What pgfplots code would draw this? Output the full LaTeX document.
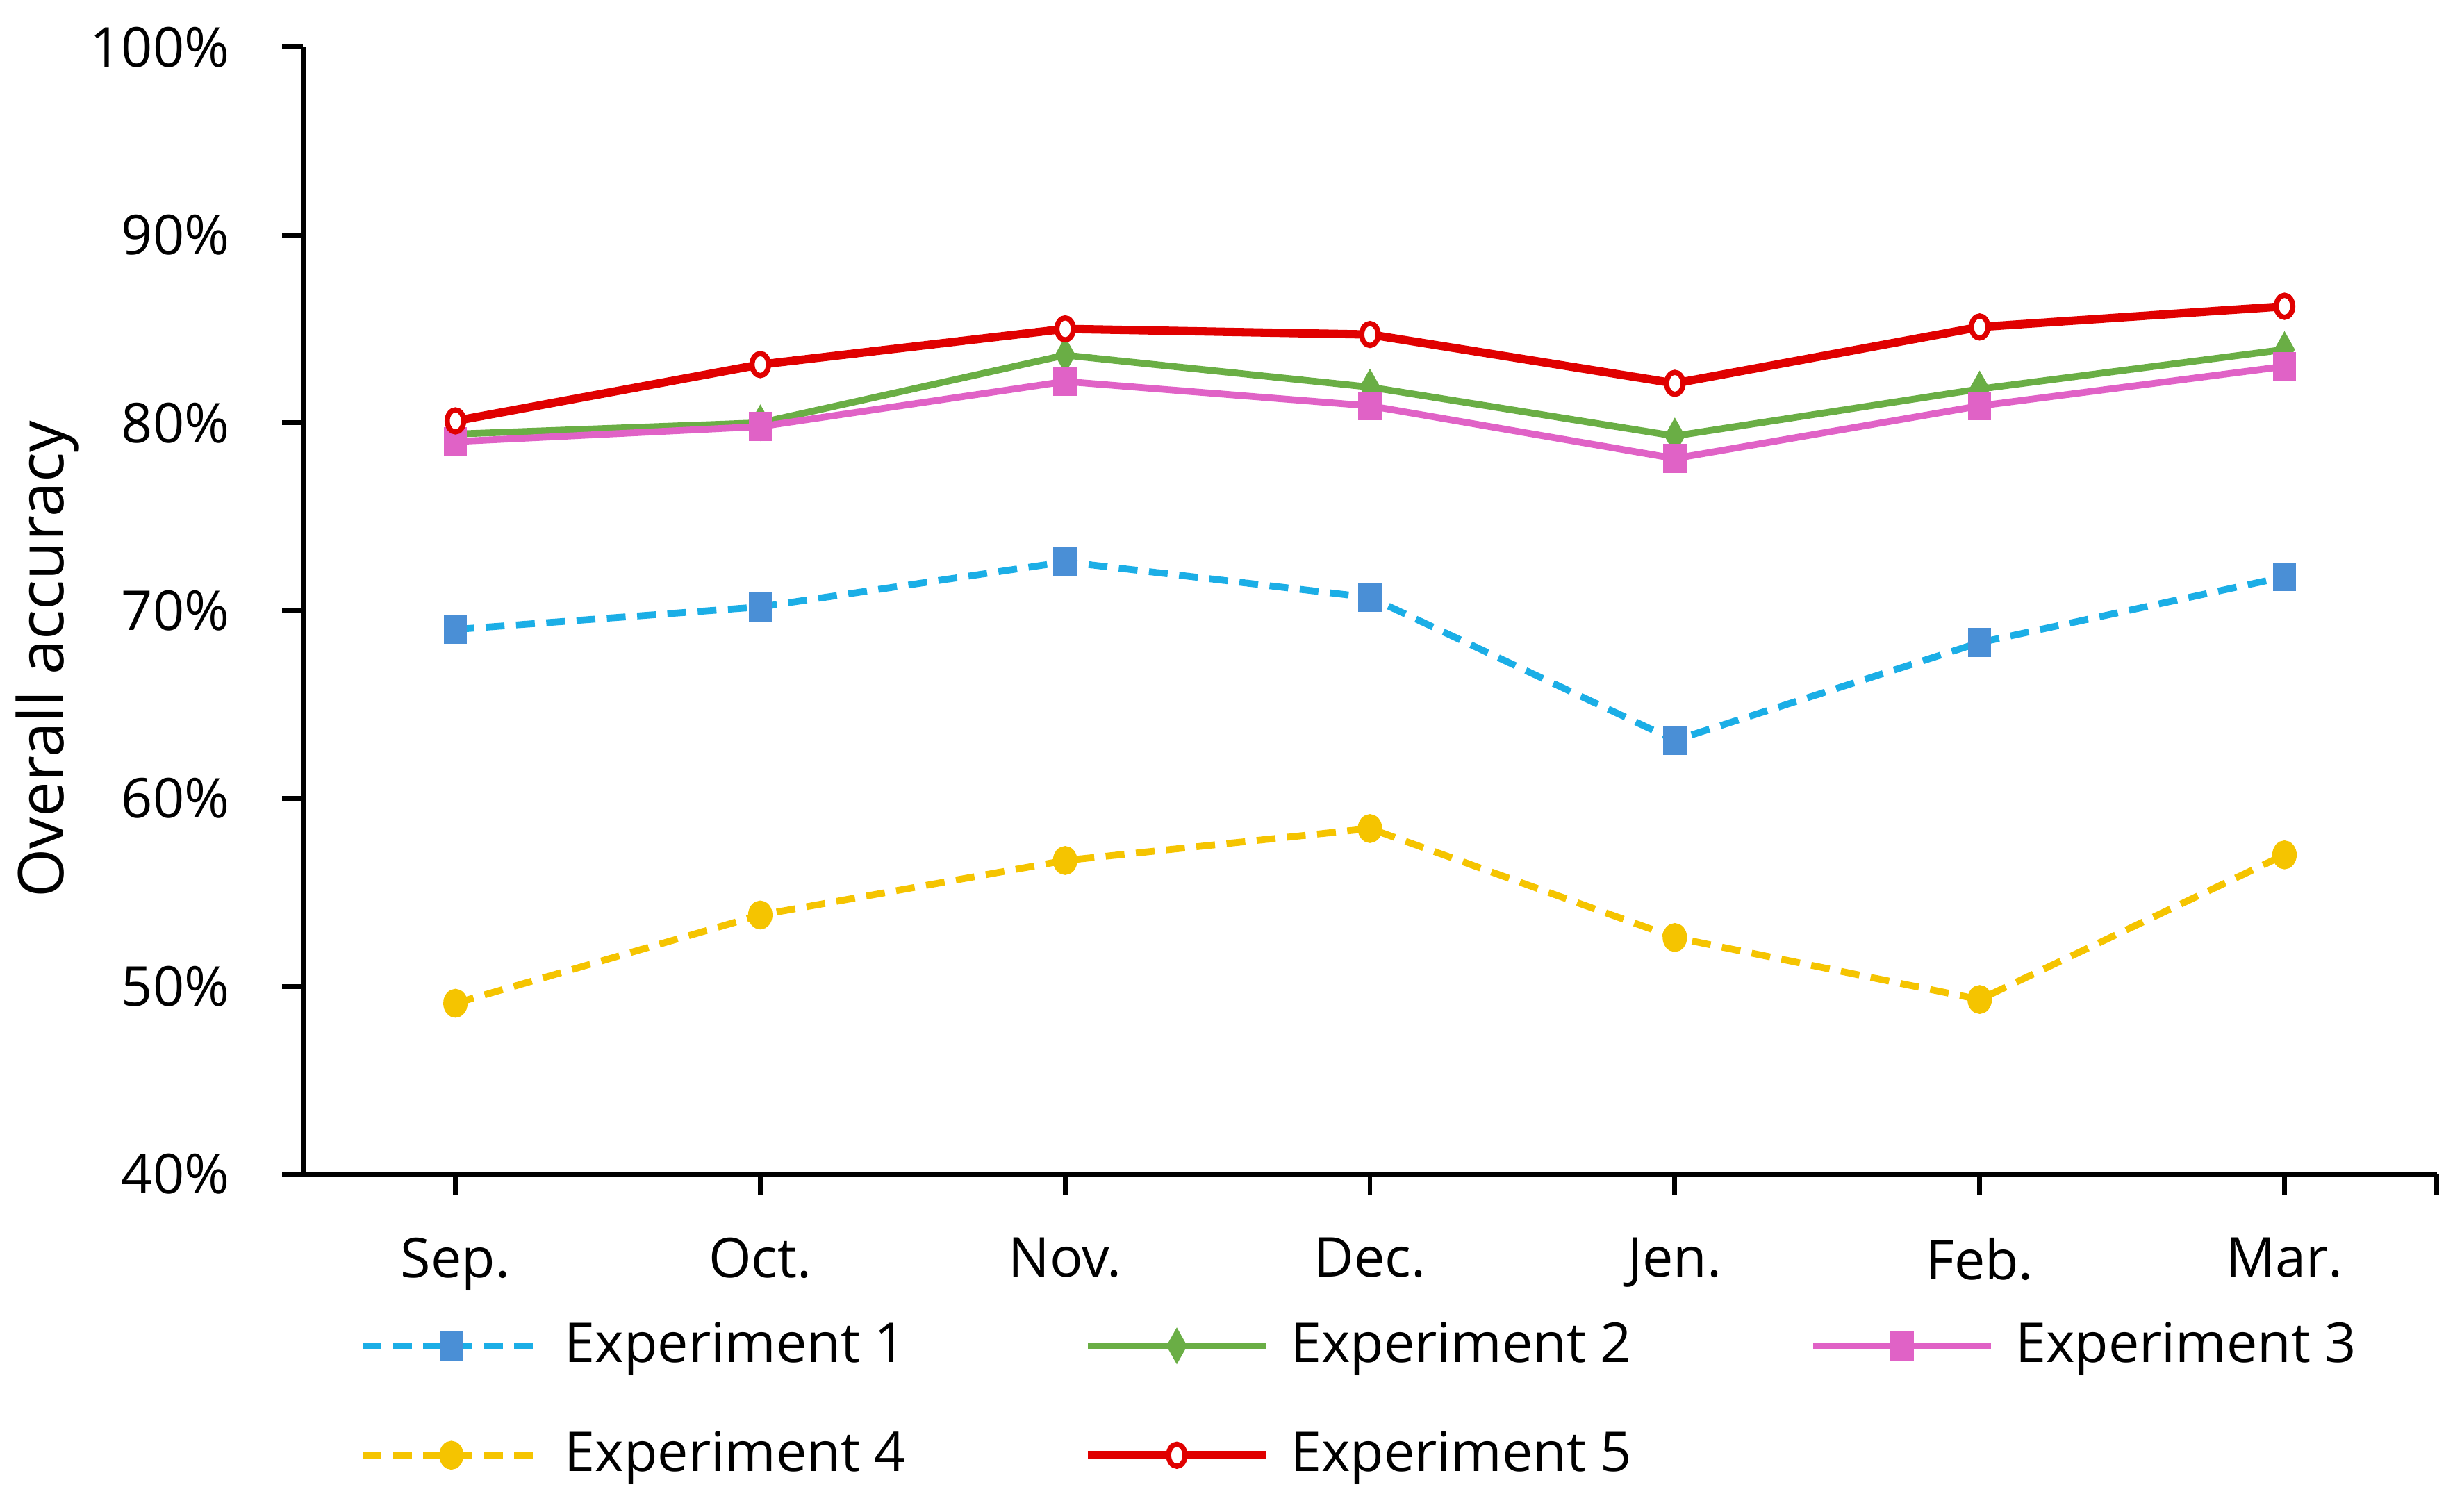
\documentclass[border=0pt]{standalone}
\usepackage{pgfplots}
\pgfplotsset{compat=1.18}
\usepackage{fontspec}
\setmainfont{Open Sans}

\definecolor{expblue}{HTML}{1BAEE6}
\definecolor{expbluemark}{HTML}{4A8FD6}
\definecolor{expgreen}{HTML}{6AAE45}
\definecolor{exppink}{HTML}{E062C6}
\definecolor{expyellow}{HTML}{F5C400}
\definecolor{expred}{HTML}{E00000}

\begin{document}
\begin{tikzpicture}[font=\fontsize{10.5}{12.6}\selectfont]
\useasboundingbox (-57.9pt,-64.5pt) rectangle (412.5pt,224.4pt);
\begin{axis}[
	scale only axis,
	width=407.7pt, height=215.4pt,
	xmin=-0.5, xmax=6.5,
	ymin=40, ymax=100,
	axis x line*=bottom, axis y line*=left,
	axis line style={line width=0.9pt},
	xtick={0,...,6},
	xticklabels={Sep.,Oct.,Nov.,Dec.,Jen.,Feb.,Mar.},
	extra x ticks={6.5}, extra x tick labels={},
	ytick={40,50,...,100},
	yticklabels={40\%,50\%,60\%,70\%,80\%,90\%,100\%},
	tick align=outside, major tick length=4pt,
	tick style={black, line width=0.9pt},
	/pgf/number format/assume math mode=true,
	y tick label style={xshift=-6.5pt},
	x tick label style={yshift=-4.6pt},
	ylabel={Overall accuracy},
	ylabel style={at={(axis description cs:-0.12,0.457)}, anchor=center,
		font=\fontsize{12}{14}\selectfont},
	legend columns=3,
	legend cell align=left,
	legend style={draw=none, inner sep=0pt, fill=none,
		at={(axis description cs:0,0)}, anchor=north west,
		xshift=10.5pt, yshift=-26pt,
		row sep=7.7pt,
		/tikz/every even column/.append style={column sep=32pt}},
	legend image code/.code={
		\draw[mark repeat=2,mark phase=2,#1]
		plot coordinates {(0pt,0pt) (17pt,0pt) (34pt,0pt)};
		\path (36pt,0pt);},
	clip=false,
]
\addplot[expblue, line width=1.3pt, dash pattern=on 3.6pt off 2.2pt,
	mark=square*, mark size=2.1pt,
	mark options={solid, xscale=0.75, draw=expbluemark, fill=expbluemark}]
	coordinates {(0,69.0) (1,70.2) (2,72.6) (3,70.7) (4,63.1) (5,68.3) (6,71.8)};
\addplot[expgreen, line width=1.3pt,
	mark=diamond*, mark size=2.2pt,
	mark options={xscale=0.75, fill=expgreen}]
	coordinates {(0,79.4) (1,80.0) (2,83.6) (3,81.9) (4,79.3) (5,81.8) (6,83.9)};
\addplot[exppink, line width=1.3pt,
	mark=square*, mark size=2.1pt,
	mark options={xscale=0.75, fill=exppink}]
	coordinates {(0,79.0) (1,79.8) (2,82.2) (3,80.9) (4,78.1) (5,80.9) (6,83.0)};
\addplot[expyellow, line width=1.3pt, dash pattern=on 3.6pt off 2.2pt,
	mark=*, mark size=2.1pt,
	mark options={solid, xscale=0.8, fill=expyellow}]
	coordinates {(0,49.1) (1,53.8) (2,56.7) (3,58.4) (4,52.6) (5,49.3) (6,57.0)};
\addplot[expred, line width=1.6pt,
	mark=*, mark size=2.1pt,
	mark options={xscale=0.75, fill=white, line width=1pt}]
	coordinates {(0,80.1) (1,83.1) (2,85.0) (3,84.7) (4,82.1) (5,85.1) (6,86.2)};
\legend{Experiment 1,Experiment 2,Experiment 3,Experiment 4,Experiment 5}
\end{axis}
\end{tikzpicture}
\end{document}
